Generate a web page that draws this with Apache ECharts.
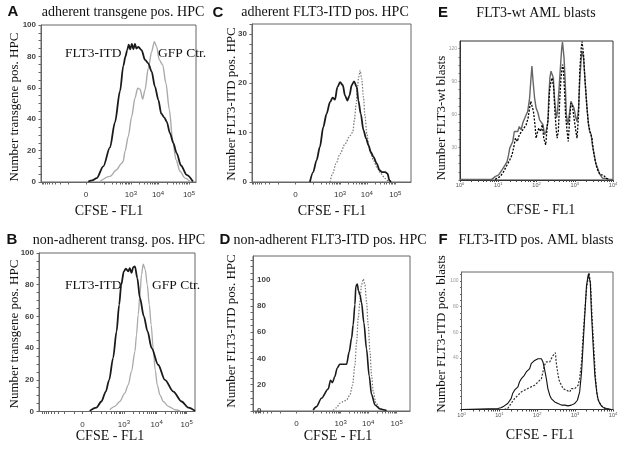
<!DOCTYPE html>
<html><head><meta charset="utf-8">
<script src="https://cdn.jsdelivr.net/npm/echarts@6/dist/echarts.min.js"></script>
<style>html,body{margin:0;padding:0;background:#fff}#c{width:629px;height:450px}</style>
</head><body><div id="c"></div>
<script>
// ---------- DATA ----------
// Panels A-D: x = display channel (0-100 across the plot), y = cell number
const hpcTickLabels = ['0', '10^3', '10^4', '10^5'];
const aTickPos = [29, 58, 75.5, 95.5];
const bTickPos = [27.9, 54.4, 75.4, 94.7];
const cTickPos = [27.4, 55.4, 72.2, 90.1];
const dTickPos = [27.7, 55.8, 73.4, 91.5];

const aItdX = [30.5, 33, 36, 40.2, 44.5, 47.7, 51.0, 53.1, 54.5, 55.6, 56.6, 57.6, 58.6, 59.6, 60.6, 61.6, 62.8, 64.9, 67.1, 69.2, 71.4, 73.5, 75.7, 77.6, 79.6, 81.1, 83.2, 85.4, 87.5, 90.3, 94.0, 98.0];
const aItdY = [0.3, 1, 2.5, 10, 22, 38, 58, 74, 80, 84, 87.5, 84.5, 88, 84.5, 88, 85, 86, 84, 77.8, 75.6, 70.3, 60.8, 52.3, 43.5, 41, 38.5, 31.1, 24.8, 18.4, 10.5, 4.5, 0.3];
const aGfpX = [38.1, 44.5, 48.8, 51.8, 53.0, 54.2, 56.3, 58.5, 60.6, 62.4, 63.9, 65.6, 67.1, 69.2, 71.4, 73.1, 74.6, 76.3, 78.5, 80.6, 82.8, 84.9, 87.1, 89.7, 92.9, 96.1];
const aGfpY = [0.4, 3.6, 7.8, 11.7, 13.1, 19.5, 29, 41.7, 53.4, 59.7, 59.1, 52.8, 58.7, 72.5, 83, 89.4, 86.2, 77.8, 74.6, 62.9, 46, 26.9, 14.2, 6.8, 2.5, 0.4];

const bItdX = [32.5, 36.8, 40.0, 42.8, 45.0, 47.5, 49.7, 51.4, 52.7, 54.4, 55.7, 57.2, 58.2, 59.3, 60.4, 61.5, 63.0, 64.7, 67.2, 69.6, 72.2, 76.4, 80.7, 86.1, 91.4, 95.7, 100];
const bItdY = [0.4, 2.5, 6.3, 12.6, 20.0, 33.7, 50.5, 67.4, 80, 88.4, 90.1, 88.4, 90.5, 87.4, 91, 91.6, 84.2, 71.6, 60, 50.5, 40, 29.5, 20, 12.6, 6.3, 2.5, 0.4];
const bGfpX = [45.4, 48.6, 51.8, 55.0, 57.2, 59.3, 61.5, 62.5, 63.6, 64.7, 65.7, 66.8, 68.1, 69.4, 70.7, 71.9, 73.2, 74.5, 75.8, 77.5, 79.7, 82.9, 87.2, 90.4];
const bGfpY = [1.1, 3.2, 6.3, 11.6, 16.8, 25.3, 37.9, 48.4, 61.1, 73.7, 86.3, 93, 89.5, 80, 67.4, 54.7, 40, 26.3, 16.8, 10.5, 6.3, 3.2, 1.1, 0.4];

const cItdX = [36.4, 38.5, 40.6, 42.7, 44.8, 46.9, 49.1, 50.7, 52.2, 53.7, 55.4, 57.1, 58.5, 60.0, 61.3, 62.7, 64.2, 65.9, 66.9, 68.4, 70.1, 71.8, 73.3, 74.7, 76.4, 78.5, 80.2, 81.7, 83.8, 85.2, 86.5, 87.4];
const cItdY = [0, 2.0, 4.4, 7.1, 11.1, 13.8, 16.2, 17.1, 16.7, 19.2, 20.2, 19.6, 17.5, 16.5, 17.5, 19.6, 20.4, 19.2, 16.5, 13.8, 10.5, 8.8, 7.4, 6.1, 5.1, 3.7, 2.4, 2.0, 2.0, 1.7, 0.3, 0];
const cCtrX = [49.1, 50.7, 52.8, 55.4, 58.5, 61.6, 63.4, 64.4, 65.5, 66.3, 67.1, 68.0, 69.0, 70.1, 71.1, 72.2, 73.5, 74.7, 76.4, 78.5, 81.0, 83.8, 85.9];
const cCtrY = [0, 1.7, 3.7, 5.7, 7.7, 9.4, 10.1, 12.5, 15.8, 19.2, 21.2, 22.6, 20.9, 17.2, 13.2, 9.8, 7.4, 5.7, 4.4, 3.0, 1.7, 0.7, 0];

const dItdX = [38.3, 40.4, 43.6, 47.9, 49.4, 50.6, 52.1, 53.6, 55.3, 59.6, 61.3, 62.8, 63.8, 64.9, 65.5, 66.4, 67.2, 68.1, 69.1, 70.6, 72.3, 74.0, 75.5, 77.7, 80.9, 85.1];
const dItdY = [0.8, 3.3, 9.7, 16.8, 23.4, 21.6, 26.2, 32.6, 35.6, 35.6, 45.3, 55.5, 65.6, 80.9, 94.9, 96.7, 91.6, 88.5, 82.7, 67.4, 47.3, 26.7, 12.7, 4.6, 1.5, 0.3];
const dCtrX = [51.1, 53.2, 55.3, 57.4, 59.6, 61.7, 63.4, 64.9, 66.0, 67.0, 68.1, 69.1, 70.2, 71.3, 72.3, 73.4, 74.5, 75.5, 76.6, 78.3, 80.9, 84.0];
const dCtrY = [0.5, 2.5, 5.9, 7.1, 8.4, 12.2, 19.8, 35, 52.7, 70.5, 83.2, 96, 100.5, 96, 83.2, 65.4, 45.3, 27.5, 14.8, 5.9, 2, 0.3];

// Panels E-F: x = log10(CFSE-FL1), y = counts
const blastTickLabels = ['10^0', '10^1', '10^2', '10^3', '10^4'];
const blastTickPos = [0, 1, 2, 3, 4];

const eSolidX = [0.00, 0.48, 0.53, 0.58, 0.83, 0.88, 0.92, 0.96, 1.01, 1.05, 1.10, 1.14, 1.18, 1.23, 1.27, 1.30, 1.34, 1.38, 1.42, 1.46, 1.51, 1.55, 1.60, 1.64, 1.68, 1.73, 1.77, 1.82, 1.85, 1.88, 1.91, 1.95, 1.99, 2.04, 2.08, 2.12, 2.17, 2.21, 2.25, 2.30, 2.32, 2.35, 2.38, 2.41, 2.44, 2.47, 2.52, 2.55, 2.59, 2.63, 2.66, 2.68, 2.72, 2.75, 2.78, 2.82, 2.87, 2.90, 2.94, 2.98, 3.03, 3.06, 3.10, 3.13, 3.17, 3.19, 3.23, 3.27, 3.32, 3.36, 3.39, 3.43, 3.46, 3.51, 3.55, 3.60, 3.64, 3.68, 3.73, 3.77, 3.83, 3.90, 4.0];
const eSolidY = [0.6, 0.6, 2.1, 0.6, 0.6, 1.5, 3.1, 1.5, 4.6, 6.1, 9.2, 10.7, 13.8, 16.8, 22.9, 29.1, 27.5, 35.2, 44.3, 45.9, 44.3, 48.9, 45.9, 52.0, 53.5, 59.6, 62.7, 74.9, 90.2, 104.0, 90.2, 74.9, 65.7, 61.2, 55.0, 56.6, 50.5, 41.3, 44.3, 53.5, 74.9, 93.3, 99.4, 96.3, 93.3, 74.9, 56.6, 62.7, 84.1, 105.5, 120.8, 126, 111.6, 90.2, 59.6, 50.5, 62.7, 71.9, 70.3, 65.7, 56.6, 53.5, 65.7, 90.2, 111.6, 117.7, 111.6, 90.2, 65.7, 50.5, 44.3, 41.3, 32.1, 22.9, 15.3, 10.7, 6.1, 4.6, 1.5, 2.1, 1.5, 0.6, 0.6];
const eDotX = [0.92, 1.05, 1.14, 1.23, 1.30, 1.36, 1.40, 1.45, 1.50, 1.55, 1.61, 1.67, 1.73, 1.78, 1.82, 1.85, 1.89, 1.92, 1.96, 1.99, 2.03, 2.06, 2.11, 2.15, 2.19, 2.24, 2.27, 2.31, 2.34, 2.38, 2.41, 2.45, 2.48, 2.52, 2.54, 2.57, 2.61, 2.64, 2.68, 2.70, 2.73, 2.76, 2.80, 2.83, 2.87, 2.90, 2.94, 2.98, 3.03, 3.06, 3.10, 3.13, 3.17, 3.19, 3.23, 3.27, 3.32, 3.36, 3.40, 3.45, 3.49, 3.54, 3.58, 3.62, 3.67, 3.71, 3.75, 3.82, 3.90];
const eDotY = [0.6, 3.1, 7.6, 13.8, 18.3, 22.9, 29.1, 38.2, 35.2, 41.3, 44.3, 47.4, 50.5, 56.6, 65.7, 71.9, 70.3, 62.7, 50.5, 38.2, 44.3, 47.4, 44.3, 50.5, 38.2, 32.1, 44.3, 59.6, 81.0, 90.2, 93.3, 84.1, 62.7, 44.3, 38.2, 44.3, 74.9, 93.3, 105.5, 102.4, 84.1, 59.6, 44.3, 35.2, 56.6, 70.3, 67.3, 56.6, 44.3, 38.2, 59.6, 99.4, 120.8, 126.5, 114.7, 90.2, 65.7, 50.5, 44.3, 38.2, 26.0, 16.8, 10.7, 7.6, 4.6, 3.1, 4.6, 1.5, 0.6];

const fSolidX = [0.00, 0.96, 1.04, 1.13, 1.22, 1.31, 1.35, 1.40, 1.44, 1.49, 1.53, 1.58, 1.62, 1.66, 1.71, 1.75, 1.80, 1.84, 1.88, 1.93, 1.97, 2.02, 2.06, 2.11, 2.15, 2.19, 2.24, 2.28, 2.33, 2.37, 2.46, 2.55, 2.64, 2.73, 2.81, 2.90, 2.99, 3.06, 3.12, 3.17, 3.21, 3.26, 3.30, 3.35, 3.37, 3.40, 3.43, 3.48, 3.52, 3.57, 3.61, 3.68, 3.74, 3.83, 3.96];
const fSolidY = [0, 0.8, 1.3, 2.8, 4.7, 8.5, 12.4, 15.0, 13.7, 17.6, 21.4, 24.0, 22.7, 26.6, 29.2, 27.9, 31.8, 35.7, 37.0, 38.2, 39.5, 39.5, 40.8, 39.5, 37.0, 31.8, 24.0, 16.3, 11.1, 8.5, 5.9, 4.7, 3.4, 3.4, 2.8, 3.4, 4.7, 7.2, 13.7, 29.2, 49.9, 75.7, 96.4, 105.4, 106.5, 99.0, 75.7, 47.3, 26.6, 13.7, 7.2, 3.4, 1.6, 0.8, 0];
const fDotX = [1.13, 1.22, 1.31, 1.40, 1.49, 1.58, 1.66, 1.75, 1.84, 1.93, 2.02, 2.06, 2.11, 2.15, 2.19, 2.24, 2.28, 2.33, 2.37, 2.42, 2.48, 2.50, 2.55, 2.59, 2.64, 2.68, 2.73, 2.77, 2.81, 2.86, 2.90, 2.95, 2.99, 3.04, 3.08, 3.12, 3.17, 3.21, 3.26, 3.30, 3.35, 3.37, 3.41, 3.45, 3.50, 3.54, 3.58, 3.63, 3.70, 3.79, 3.92];
const fDotY = [0, 0.8, 4.7, 8.5, 11.1, 13.7, 15.0, 16.3, 17.6, 18.9, 21.4, 20.2, 24.0, 29.2, 34.4, 37.0, 38.2, 37.0, 39.5, 42.1, 44.2, 37.0, 26.6, 21.4, 18.9, 16.3, 16.8, 15.0, 16.3, 13.7, 16.3, 15.0, 16.3, 17.6, 18.9, 24.0, 37.0, 57.6, 78.3, 93.8, 104.1, 106.5, 96.4, 70.5, 44.7, 24.0, 11.1, 5.9, 2.8, 0.8, 0];

// ---------- CHART ----------
const serif = "'Liberation Serif','Times New Roman',serif";
const sans = "'Liberation Sans',Arial,sans-serif";
const zip = (xs, ys) => xs.map((x, i) => [x, ys[i]]);
const richLab = s => {
  if (s.indexOf('^') < 0) return '{b|' + s + '}';
  const p = s.split('^');
  return '{b|' + p[0] + '}{s|' + p[1] + '}';
};
const nearest = (arr, v) => { let bi = 0; arr.forEach((t, i) => { if (Math.abs(t - v) < Math.abs(arr[bi] - v)) bi = i; }); return bi; };

function hpcMinor(t) {
  const [p0, p3, p4, p5] = t;
  const out = [p0, p3, p4, p5];
  const dec = p4 - p3;
  const p2 = p3 - dec;
  const segs = [[p2, p3], [p3, p4], [p4, p5]];
  segs.forEach(([a, b]) => { for (let m = 2; m <= 9; m++) out.push(a + (b - a) * Math.log10(m)); });
  out.push(p2);
  for (let m = 1; m <= 9; m++) out.push(2 * p0 - (p2 + (p3 - p2) * Math.log10(m)));
  return out.filter(v => v >= 0 && v <= 100);
}
function logMinor() {
  const out = [];
  for (let k = 0; k < 4; k++) for (let m = 1; m <= 9; m++) out.push(k + Math.log10(m));
  out.push(4);
  return out;
}

const grids = [
  { left: 41, top: 25, width: 155, height: 157 },
  { left: 39, top: 253, width: 156, height: 158.5 },
  { left: 252, top: 24, width: 159, height: 158 },
  { left: 253, top: 256, width: 157, height: 155 },
  { left: 460, top: 41, width: 153, height: 139 },
  { left: 461.5, top: 272, width: 151.5, height: 137.5 }
].map((g, i) => Object.assign({ show: true, borderColor: i === 4 ? '#333' : '#666', borderWidth: 1, backgroundColor: 'transparent' }, g));

const richHpc = {
  b: { fontSize: 8, fontFamily: sans, color: '#333', lineHeight: 10 },
  s: { fontSize: 6, fontFamily: sans, color: '#333', lineHeight: 6, verticalAlign: 'top' }
};
const richBlast = {
  b: { fontSize: 5.5, fontFamily: sans, color: '#555', lineHeight: 7 },
  s: { fontSize: 4, fontFamily: sans, color: '#555', lineHeight: 4, verticalAlign: 'top' }
};

function hpcX(gi, ticks) {
  return {
    gridIndex: gi, type: 'value', min: 0, max: 100,
    axisLine: { show: true, onZero: false, lineStyle: { color: '#666', width: 1 } },
    axisTick: { show: true, customValues: hpcMinor(ticks), length: 2.5, lineStyle: { color: '#666' } },
    axisLabel: { customValues: ticks, margin: 8, formatter: v => richLab(hpcTickLabels[nearest(ticks, v)]), rich: richHpc },
    splitLine: { show: false }
  };
}
function blastX(gi) {
  return {
    gridIndex: gi, type: 'value', min: 0, max: 4,
    axisLine: { show: true, onZero: false, lineStyle: { color: '#333', width: 1 } },
    axisTick: { show: true, customValues: logMinor(), length: 2, lineStyle: { color: '#444' } },
    axisLabel: { customValues: blastTickPos, margin: 2, formatter: v => richLab(blastTickLabels[nearest(blastTickPos, v)]), rich: richBlast },
    splitLine: { show: false }
  };
}
function yAx(gi, max, labels, ticks, opt) {
  opt = opt || {};
  return {
    gridIndex: gi, type: 'value', min: 0, max: max,
    axisLine: { show: true, onZero: false, lineStyle: { color: opt.lineColor || '#666', width: 1 } },
    axisTick: { show: true, customValues: ticks, length: opt.tickLen || 2.5, lineStyle: { color: '#666' } },
    axisLabel: { customValues: labels, inside: !!opt.inside, margin: opt.margin || 5, fontSize: opt.fontSize || 8, fontWeight: opt.weight || 'bold', fontFamily: sans, color: opt.labelColor || '#444' },
    splitLine: { show: false }
  };
}
const range = (a, b, s) => { const o = []; for (let v = a; v <= b + 1e-9; v += s) o.push(+v.toFixed(3)); return o; };

const line = (gi, xs, ys, color, width, type, smooth) => ({
  type: 'line', xAxisIndex: gi, yAxisIndex: gi, data: zip(xs, ys), showSymbol: false, symbol: 'none',
  smooth: smooth, smoothMonotone: 'x', clip: true, animation: false,
  lineStyle: { color: color, width: width, type: type || 'solid' }
});

function txt(x, y, text, font, opts) {
  opts = opts || {};
  return {
    type: 'text', x: x, y: y, rotation: opts.rot || 0, z: 100,
    style: { text: text, font: font, fill: opts.fill || '#111', align: opts.align || 'center', verticalAlign: 'middle', textAlign: opts.align || 'center', textVerticalAlign: 'middle' }
  };
}
const fTitle = '14px ' + serif, fLetter = 'bold 15px ' + sans, fYName = '13px ' + serif, fXName = '14px ' + serif, fNote = '13.5px ' + serif;
const R = Math.PI / 2;

const option = {
  backgroundColor: '#fff',
  animation: false,
  grid: grids,
  xAxis: [hpcX(0, aTickPos), hpcX(1, bTickPos), hpcX(2, cTickPos), hpcX(3, dTickPos), blastX(4), blastX(5)],
  yAxis: [
    yAx(0, 100, [0, 20, 40, 60, 80, 100], range(0, 100, 5)),
    yAx(1, 100, [0, 20, 40, 60, 80, 100], range(0, 100, 5)),
    yAx(2, 32, [0, 10, 20, 30], range(0, 32, 2)),
    yAx(3, 118, [0, 20, 40, 60, 80, 100], range(0, 115, 5), { inside: true, margin: 4 }),
    yAx(4, 127, [30, 60, 90, 120], range(0, 125, 7.5), { fontSize: 5, weight: 'normal', labelColor: '#999', margin: 3, tickLen: 1.5, lineColor: '#333' }),
    yAx(5, 107, [40, 60, 80, 100], range(0, 105, 5), { fontSize: 5, weight: 'normal', labelColor: '#999', margin: 3, tickLen: 1.5 })
  ],
  series: [
    line(0, aGfpX, aGfpY, '#aaa', 1.4, 'solid', 0.3),
    line(0, aItdX, aItdY, '#1a1a1a', 1.8, 'solid', 0.3),
    line(1, bGfpX, bGfpY, '#aaa', 1.3, 'solid', 0.3),
    line(1, bItdX, bItdY, '#1a1a1a', 1.8, 'solid', 0.3),
    line(2, cCtrX, cCtrY, '#777', 1.2, [1.5, 1.5], 0.3),
    line(2, cItdX, cItdY, '#1a1a1a', 1.8, 'solid', 0.3),
    line(3, dCtrX, dCtrY, '#777', 1.2, [1.5, 1.5], 0.3),
    line(3, dItdX, dItdY, '#1a1a1a', 1.6, 'solid', 0.3),
    line(4, eSolidX, eSolidY, '#666', 1.4, 'solid', false),
    line(4, eDotX, eDotY, '#000', 1.3, [2, 1.5], false),
    line(5, fDotX, fDotY, '#333', 1.2, [2, 1.5], false),
    line(5, fSolidX, fSolidY, '#111', 1.1, 'solid', false)
  ],
  graphic: [
    txt(13, 12, 'A', fLetter), txt(123, 12.5, 'adherent transgene pos. HPC', fTitle),
    txt(12, 240, 'B', fLetter), txt(119, 240, 'non-adherent transg. pos. HPC', fTitle),
    txt(218, 13, 'C', fLetter), txt(325, 12.5, 'adherent FLT3-ITD pos. HPC', fTitle),
    txt(225, 240, 'D', fLetter), txt(330, 240, 'non-adherent FLT3-ITD pos. HPC', fTitle),
    txt(443, 13, 'E', fLetter), txt(536, 13, 'FLT3-wt AML blasts', fTitle),
    txt(443, 240, 'F', fLetter), txt(536, 240, 'FLT3-ITD pos. AML blasts', fTitle),

    txt(15, 107, 'Number transgene pos. HPC', fYName, { rot: R }),
    txt(15, 334, 'Number transgene pos. HPC', fYName, { rot: R }),
    txt(232, 104, 'Number FLT3-ITD pos. HPC', fYName, { rot: R }),
    txt(232, 331, 'Number FLT3-ITD pos. HPC', fYName, { rot: R }),
    txt(442, 118, 'Number FLT3-wt blasts', fYName, { rot: R }),
    txt(442, 334, 'Number FLT3-ITD pos. blasts', fYName, { rot: R }),

    txt(109, 211, 'CFSE - FL1', fXName), txt(110, 436, 'CFSE - FL1', fXName),
    txt(332, 211, 'CFSE - FL1', fXName), txt(338, 436, 'CFSE - FL1', fXName),
    txt(541, 210, 'CFSE - FL1', fXName), txt(540, 435, 'CFSE - FL1', fXName),

    txt(65, 53, 'FLT3-ITD', fNote, { align: 'left' }), txt(158, 53, 'GFP Ctr.', fNote, { align: 'left' }),
    txt(65, 285, 'FLT3-ITD', fNote, { align: 'left' }), txt(152, 285, 'GFP Ctr.', fNote, { align: 'left' })
  ]
};
const chart = echarts.init(document.getElementById('c'), null, { renderer: 'canvas' });
chart.setOption(option);
</script>
</body></html>
